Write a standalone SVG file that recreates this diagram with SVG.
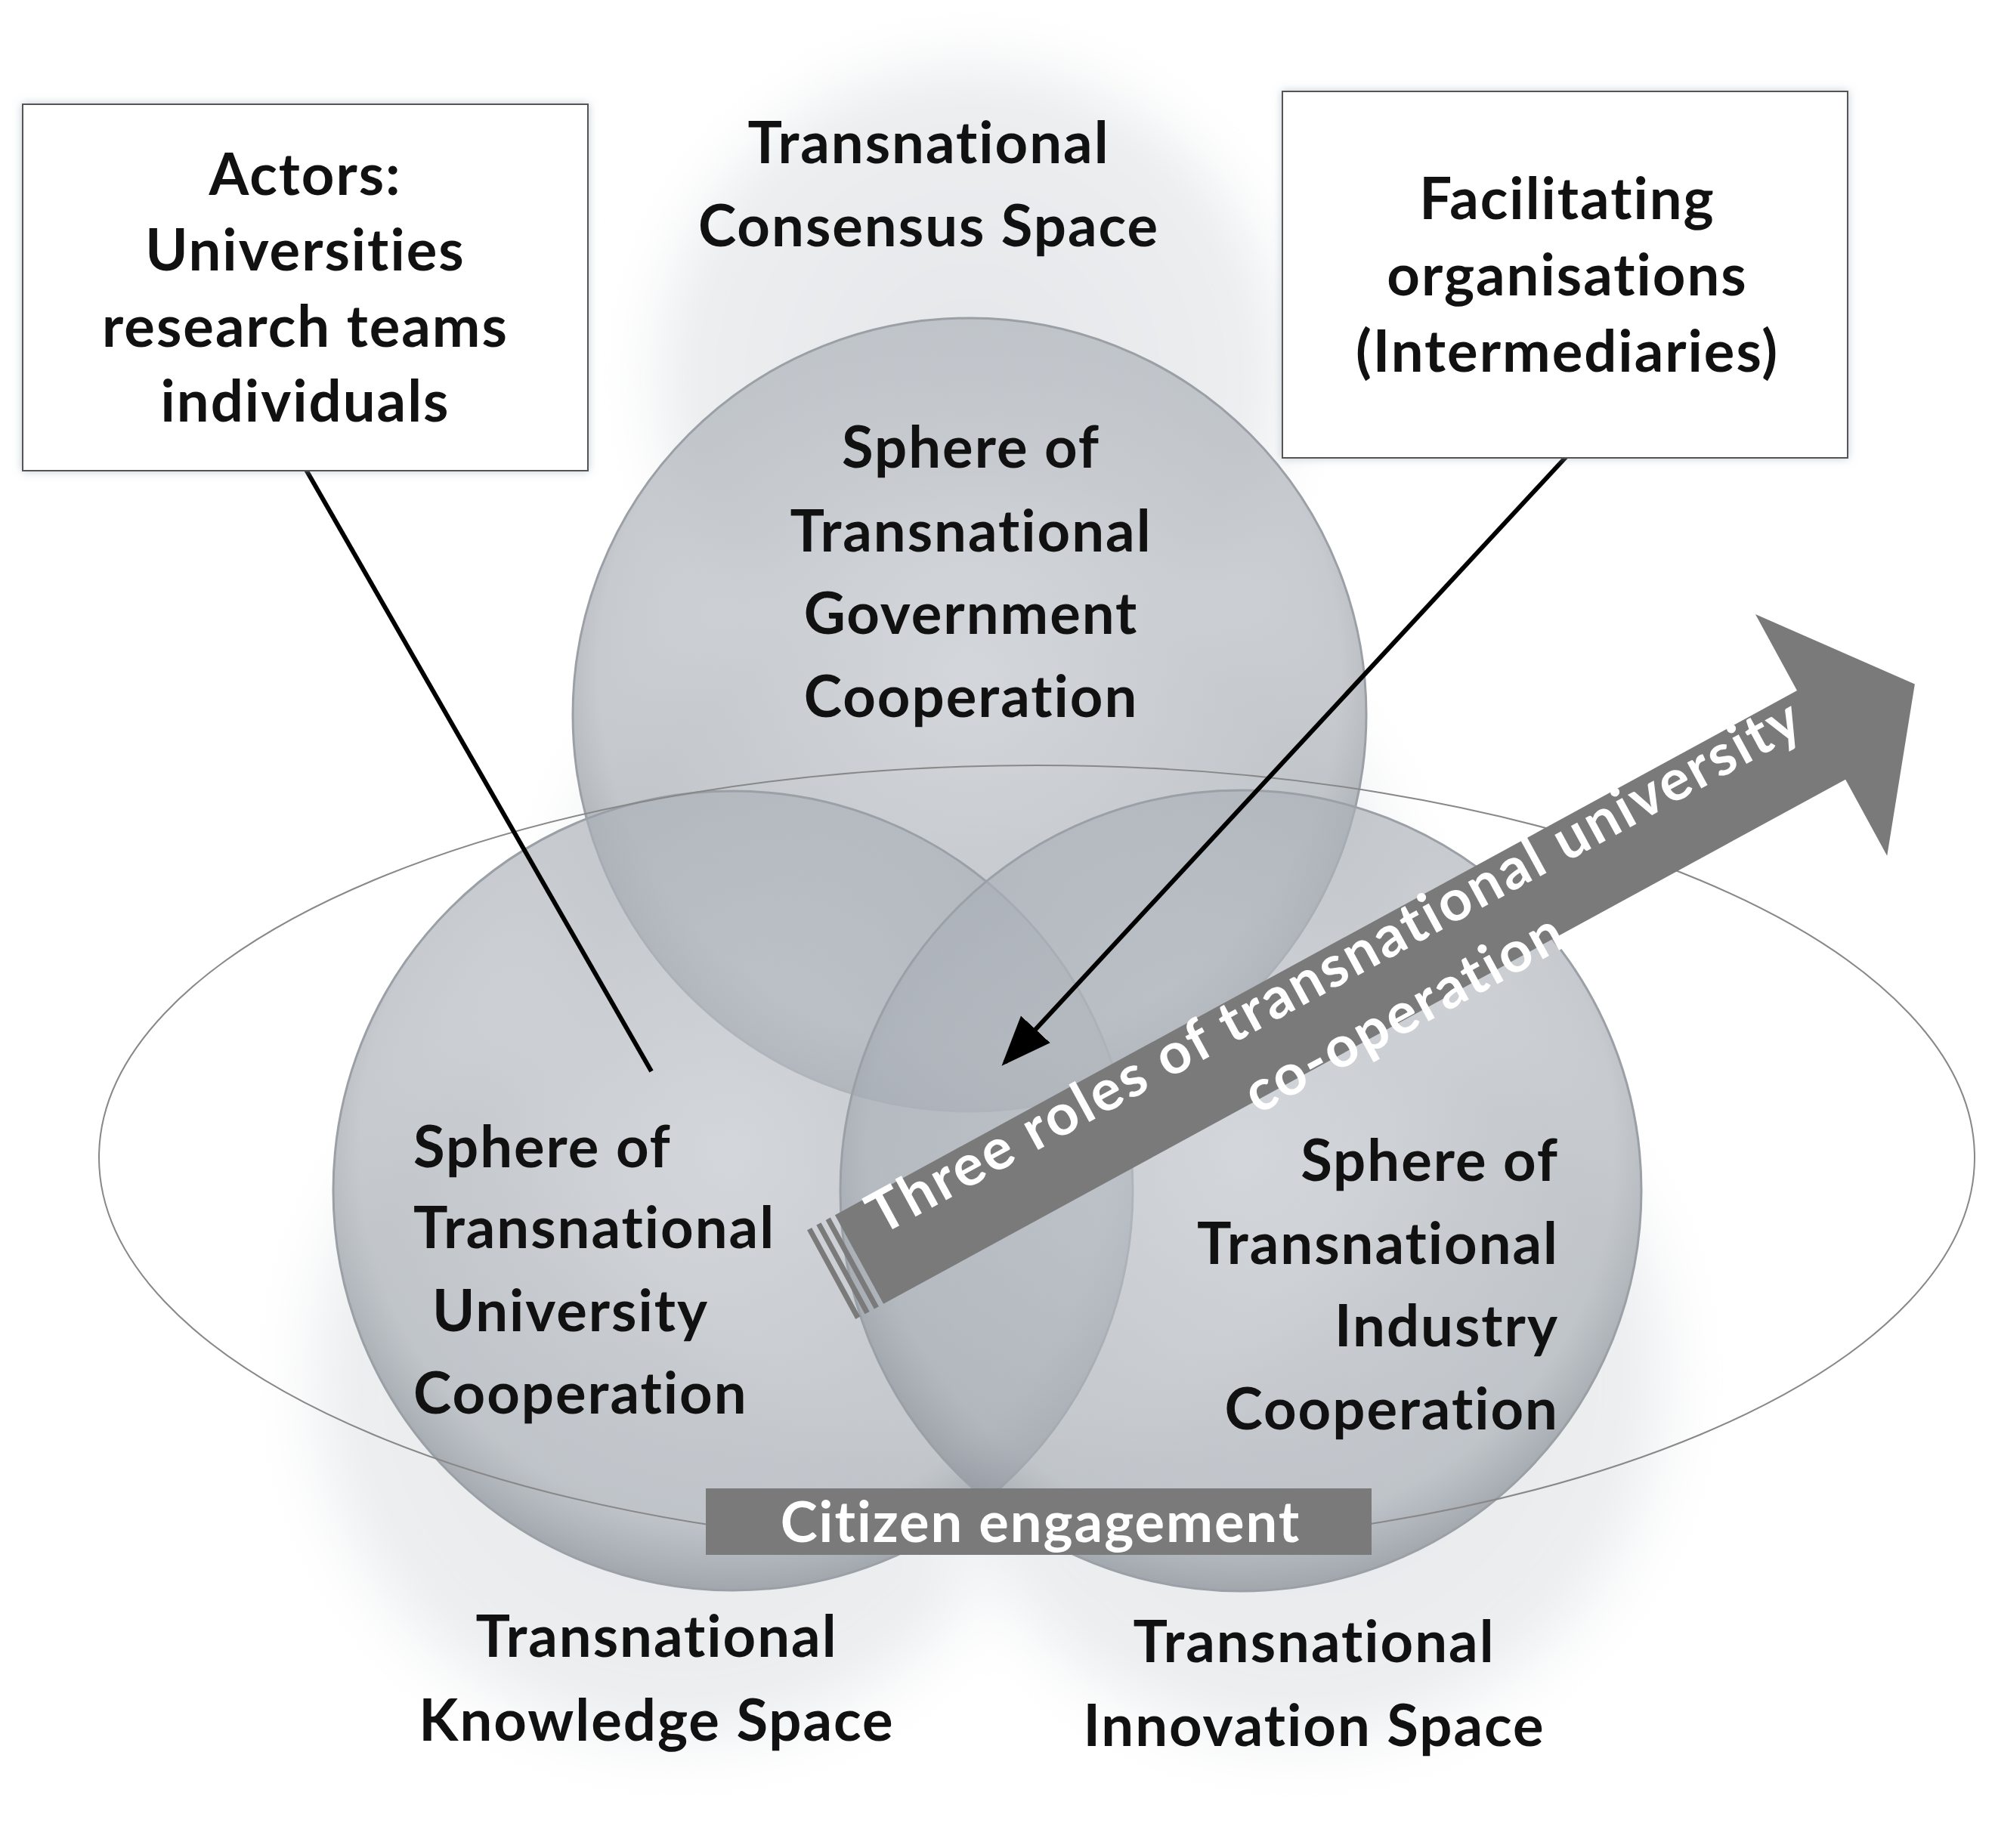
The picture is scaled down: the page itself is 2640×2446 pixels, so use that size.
<svg xmlns="http://www.w3.org/2000/svg" width="2640" height="2446" viewBox="0 0 2640 2446">
<defs>
<radialGradient id="sph" cx="50%" cy="45%" r="55%">
<stop offset="0" stop-color="#c4c9cf" stop-opacity="0.6"/>
<stop offset="0.85" stop-color="#a9afb6" stop-opacity="0.65"/>
<stop offset="1" stop-color="#8f959c" stop-opacity="0.8"/>
</radialGradient>
<radialGradient id="glow" cx="50%" cy="50%" r="50%">
<stop offset="0" stop-color="#e4e6e9"/>
<stop offset="0.8" stop-color="#eceef0"/>
<stop offset="1" stop-color="#ffffff" stop-opacity="0"/>
</radialGradient>
<filter id="blur"><feGaussianBlur stdDeviation="30"/></filter>
<filter id="sh"><feDropShadow dx="0" dy="0" stdDeviation="6" flood-color="#9ab" flood-opacity="0.6"/></filter>
<marker id="ah2" viewBox="0 0 10 10" refX="9" refY="5" markerWidth="66" markerHeight="66" markerUnits="userSpaceOnUse" orient="auto"><path d="M0,1 L10,5 L0,9 z" fill="#000"/></marker>
<style>
.t{font-family:Lato,"Liberation Sans",sans-serif;font-weight:bold;font-size:76px;letter-spacing:2px;fill:#111;}
.c{text-anchor:middle;}
.r{text-anchor:end;}
.w{fill:#fff;}
.box{fill:#fff;stroke:#555;stroke-width:2;}
.sp{fill:url(#sph);stroke:#9aa0a6;stroke-width:3;}
</style>
</defs>
<rect width="2640" height="2446" fill="#fff"/>
<g id="background" filter="url(#blur)">
<circle cx="1285" cy="500" r="480" fill="url(#glow)"/>
<circle cx="900" cy="1820" r="560" fill="url(#glow)"/>
<circle cx="1720" cy="1820" r="560" fill="url(#glow)"/>
<circle cx="1300" cy="1300" r="650" fill="url(#glow)"/>
</g>
<g id="space-consensus"><text class="t c" x="1229" y="216">Transnational</text><text class="t c" x="1229" y="326">Consensus Space</text></g>
<g id="space-knowledge"><text class="t c" x="869" y="2193">Transnational</text><text class="t c" x="869" y="2304">Knowledge Space</text></g>
<g id="space-innovation"><text class="t c" x="1739" y="2200">Transnational</text><text class="t c" x="1739" y="2311">Innovation Space</text></g>
<g id="sphere-gov"><circle class="sp" cx="1283" cy="946" r="525"/></g>
<g id="sphere-uni"><circle class="sp" cx="970" cy="1576" r="529"/></g>
<g id="sphere-ind"><circle class="sp" cx="1642" cy="1576" r="530"/></g>
<g id="ellipse"><ellipse cx="1372" cy="1532" rx="1241" ry="519" fill="none" stroke="#888" stroke-width="2"/></g>
<g id="sphere-gov-label"><text class="t c" x="1285" y="619">Sphere of</text><text class="t c" x="1285" y="730">Transnational</text><text class="t c" x="1285" y="839">Government</text><text class="t c" x="1285" y="949">Cooperation</text></g>
<g id="sphere-uni-label"><text class="t" x="547" y="1545">Sphere of</text><text class="t" x="547" y="1652">Transnational</text><text class="t" x="572" y="1762">University</text><text class="t" x="547" y="1871">Cooperation</text></g>
<g id="sphere-ind-label"><text class="t r" x="2063" y="1563">Sphere of</text><text class="t r" x="2063" y="1673">Transnational</text><text class="t r" x="2063" y="1782">Industry</text><text class="t r" x="2063" y="1892">Cooperation</text></g>
<g id="big-arrow" transform="translate(1137,1667) rotate(-28.6)">
<path d="M0,-67 L1450,-67 L1450,-182 L1591,0 L1450,182 L1450,67 L0,67 z" fill="#7a7a7a"/>
<rect x="-14" y="-67" width="7" height="134" fill="#7a7a7a"/>
<rect x="-28" y="-67" width="7" height="134" fill="#7a7a7a"/>
<rect x="-42" y="-67" width="7" height="134" fill="#7a7a7a"/>
<text class="t w" x="40" y="-14" style="font-size:76px;letter-spacing:3px">Three roles of transnational university</text>
<text class="t w c" x="790" y="84" style="font-size:76px;letter-spacing:3px">co-operation</text>
</g>
<g id="citizen"><rect x="934" y="1970" width="881" height="88" fill="#7a7a7a"/><text class="t w c" x="1377" y="2041" style="font-size:74px">Citizen engagement</text></g>
<g id="connectors">
<line x1="404" y1="620" x2="862" y2="1418" stroke="#000" stroke-width="6"/>
<line x1="2074" y1="603" x2="1330" y2="1406" stroke="#000" stroke-width="6" marker-end="url(#ah2)"/>
</g>
<g id="actors" filter="url(#sh)"><rect class="box" x="30" y="138" width="748" height="485"/></g>
<g id="actors-text"><text class="t c" x="404" y="258">Actors:</text><text class="t c" x="404" y="358">Universities</text><text class="t c" x="404" y="459">research teams</text><text class="t c" x="404" y="558">individuals</text></g>
<g id="facilitating" filter="url(#sh)"><rect class="box" x="1697" y="121" width="748" height="485"/></g>
<g id="facilitating-text"><text class="t c" x="2074" y="290">Facilitating</text><text class="t c" x="2074" y="391">organisations</text><text class="t c" x="2074" y="492">(Intermediaries)</text></g>
</svg>
